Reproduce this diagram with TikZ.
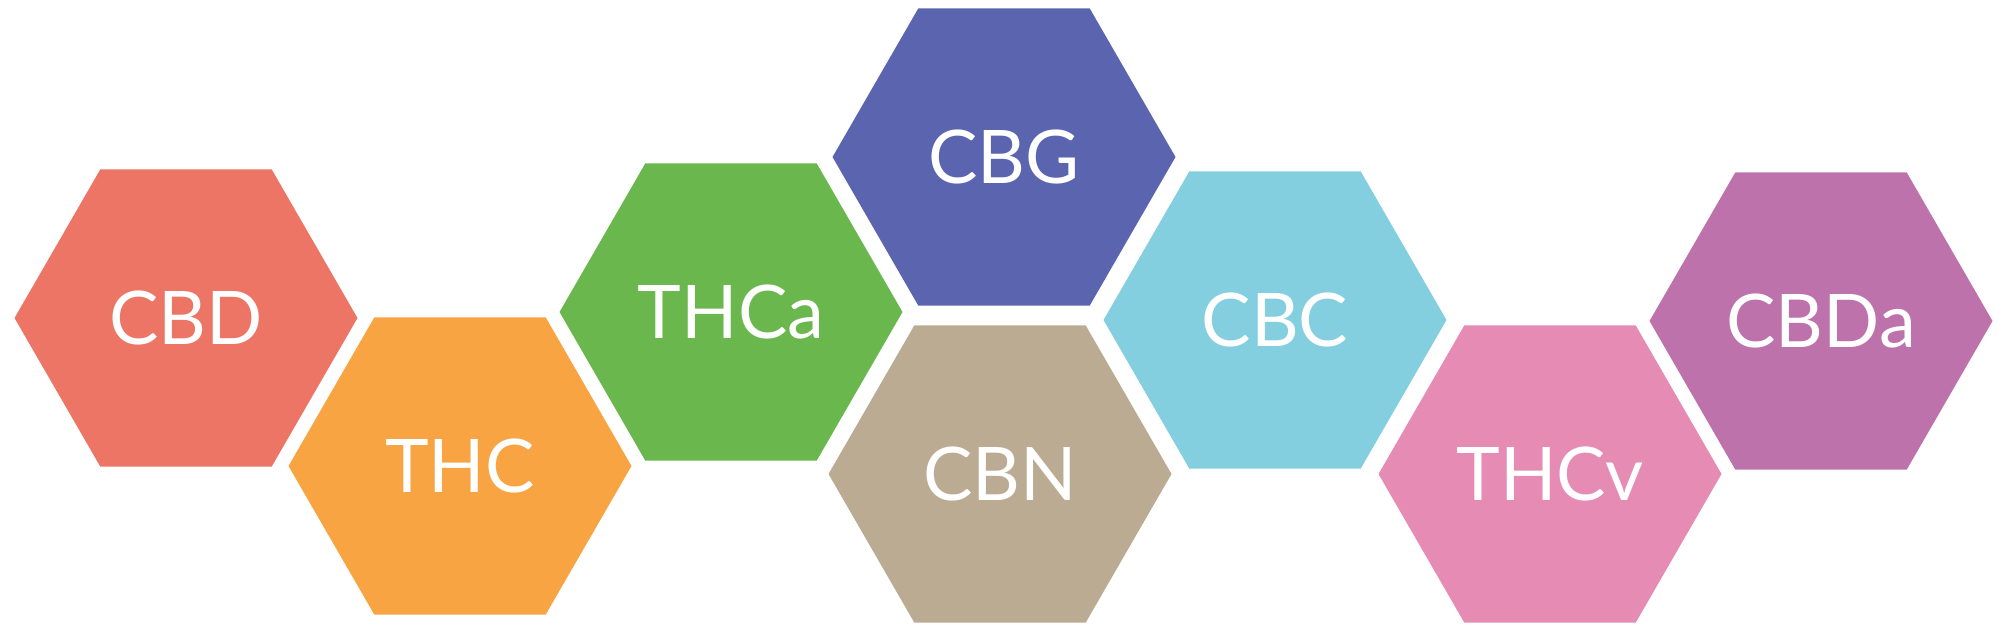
\documentclass[tikz,border=0pt]{standalone}
\usepackage{fontspec}
\setmainfont{Lato}
\usetikzlibrary{shapes.geometric}
\definecolor{cbdcol}{HTML}{EC7565}
\definecolor{thccol}{HTML}{F8A443}
\definecolor{thcacol}{HTML}{6AB84D}
\definecolor{cbgcol}{HTML}{5A64AF}
\definecolor{cbncol}{HTML}{BCAB93}
\definecolor{cbccol}{HTML}{84CFDF}
\definecolor{thcvcol}{HTML}{E58BB4}
\definecolor{cbdacol}{HTML}{BD72AC}
\tikzset{
  hexcell/.style={regular polygon, regular polygon sides=6, minimum size=343pt,
    inner sep=0pt, outer sep=0pt, text=white,
    font=\fontsize{74}{88}\selectfont}
}

\begin{document}
\begin{tikzpicture}[x=1pt,y=-1pt]
    \useasboundingbox (0,0) rectangle (1999,629);

    \node[hexcell, fill=cbdcol] (cbd) at (186,318) {CBD};
    \node[hexcell, fill=thccol] (thc) at (460,466) {THC};
    \node[hexcell, fill=thcacol] (thca) at (731,312) {THCa};
    \node[hexcell, fill=cbgcol] (cbg) at (1004,157) {CBG};
    \node[hexcell, fill=cbncol] (cbn) at (1000,474) {CBN};
    \node[hexcell, fill=cbccol] (cbc) at (1275,320) {CBC};
    \node[hexcell, fill=thcvcol] (thcv) at (1550,474) {THCv};
    \node[hexcell, fill=cbdacol] (cbda) at (1821,321) {CBDa};
\end{tikzpicture}
\end{document}
